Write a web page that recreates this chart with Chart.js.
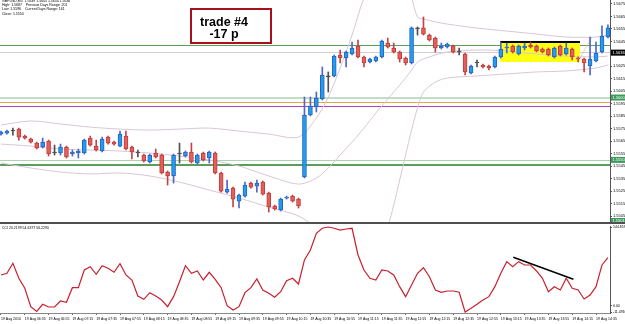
<!DOCTYPE html>
<html>
<head>
<meta charset="utf-8">
<script src="https://cdn.jsdelivr.net/npm/chart.js@4.4.1/dist/chart.umd.min.js"></script>
<style>
  html, body { margin: 0; padding: 0; background: #fff; }
  #wrap { position: relative; width: 625px; height: 324px; overflow: hidden; }
  #priceChart { position: absolute; left: 0; top: 0; }
  #sep { position: absolute; left: 0; top: 222px; width: 625px; height: 2px; background: #505050; }
  #cciChart { position: absolute; left: 0; top: 224px; }
</style>
</head>
<body>
<div id="wrap">
  <canvas id="priceChart" width="625" height="222"></canvas>
  <div id="sep"></div>
  <canvas id="cciChart" width="625" height="100"></canvas>
</div>
<script>
// GBPUSD M5, 19 Aug 2010, 06:15 .. 14:45 (one entry per bar)
var opens = [1.55707,1.55715,1.55732,1.55748,1.55691,1.55667,1.55635,1.55603,1.55651,1.55555,
  1.55555,1.55603,1.55547,1.55555,1.55555,1.55675,1.55611,1.55571,1.55683,1.55643,
  1.55611,1.55691,1.55603,1.55555,1.55539,1.55483,1.55555,1.55539,1.55403,1.55371,
  1.55547,1.55531,1.55563,1.55475,1.55555,1.55515,1.55555,1.55395,1.55242,1.55274,
  1.55170,1.55210,1.55314,1.55290,1.55322,1.55234,1.55130,1.55098,1.55194,1.55210,
  1.55186,1.55363,1.55860,1.55924,1.55988,1.56165,1.56173,1.56341,1.56317,1.56349,
  1.56413,1.56325,1.56285,1.56293,1.56325,1.56437,1.56397,1.56365,1.56317,1.56277,
  1.56550,1.56558,1.56501,1.56477,1.56397,1.56405,1.56413,1.56365,1.56349,1.56197,
  1.56277,1.56261,1.56253,1.56245,1.56325,1.56397,1.56413,1.56349,1.56397,1.56421,
  1.56413,1.56389,1.56389,1.56325,1.56413,1.56349,1.56389,1.56317,1.56309,1.56253,
  1.56293,1.56365,1.56485];
var highs = [1.55732,1.55740,1.55756,1.55756,1.55699,1.55675,1.55643,1.55675,1.55659,1.55619,
  1.55627,1.55611,1.55579,1.55587,1.55667,1.55691,1.55659,1.55683,1.55691,1.55651,
  1.55732,1.55732,1.55611,1.55579,1.55547,1.55547,1.55587,1.55547,1.55411,1.55547,
  1.55635,1.55571,1.55635,1.55547,1.55563,1.55571,1.55563,1.55403,1.55339,1.55282,
  1.55226,1.55322,1.55322,1.55339,1.55331,1.55242,1.55138,1.55194,1.55210,1.55218,
  1.55194,1.56004,1.56004,1.56044,1.56245,1.56205,1.56341,1.56381,1.56373,1.56445,
  1.56461,1.56333,1.56317,1.56333,1.56461,1.56477,1.56437,1.56373,1.56325,1.56566,
  1.56566,1.56646,1.56509,1.56485,1.56437,1.56437,1.56421,1.56397,1.56357,1.56261,
  1.56301,1.56269,1.56261,1.56333,1.56445,1.56437,1.56421,1.56421,1.56437,1.56445,
  1.56421,1.56397,1.56397,1.56405,1.56421,1.56437,1.56397,1.56325,1.56317,1.56485,
  1.56445,1.56574,1.56582];
var lows = [1.55699,1.55707,1.55699,1.55659,1.55667,1.55635,1.55587,1.55595,1.55531,1.55539,
  1.55539,1.55515,1.55531,1.55515,1.55547,1.55611,1.55571,1.55563,1.55627,1.55619,
  1.55603,1.55579,1.55507,1.55523,1.55483,1.55475,1.55515,1.55387,1.55298,1.55314,
  1.55475,1.55523,1.55475,1.55467,1.55491,1.55475,1.55387,1.55242,1.55234,1.55122,
  1.55114,1.55202,1.55274,1.55242,1.55218,1.55082,1.55098,1.55090,1.55186,1.55162,
  1.55114,1.55355,1.55852,1.55884,1.55980,1.56044,1.56165,1.56277,1.56245,1.56341,
  1.56317,1.56245,1.56277,1.56285,1.56317,1.56397,1.56357,1.56285,1.56261,1.56269,
  1.56501,1.56501,1.56453,1.56365,1.56389,1.56397,1.56357,1.56341,1.56181,1.56189,
  1.56245,1.56237,1.56221,1.56237,1.56317,1.56357,1.56357,1.56341,1.56381,1.56397,
  1.56365,1.56357,1.56333,1.56317,1.56333,1.56341,1.56301,1.56285,1.56205,1.56181,
  1.56285,1.56357,1.56477];
var closes = [1.55723,1.55732,1.55732,1.55683,1.55675,1.55643,1.55595,1.55643,1.55547,1.55555,
  1.55603,1.55523,1.55563,1.55571,1.55659,1.55619,1.55579,1.55667,1.55635,1.55627,
  1.55707,1.55587,1.55563,1.55555,1.55491,1.55539,1.55523,1.55395,1.55371,1.55539,
  1.55547,1.55563,1.55483,1.55539,1.55499,1.55563,1.55395,1.55250,1.55266,1.55186,
  1.55218,1.55298,1.55282,1.55314,1.55226,1.55122,1.55106,1.55186,1.55202,1.55170,
  1.55130,1.55860,1.55932,1.55996,1.56181,1.56165,1.56333,1.56317,1.56365,1.56397,
  1.56325,1.56277,1.56309,1.56325,1.56453,1.56405,1.56365,1.56309,1.56277,1.56558,
  1.56550,1.56509,1.56461,1.56397,1.56413,1.56429,1.56365,1.56365,1.56205,1.56253,
  1.56277,1.56245,1.56237,1.56325,1.56389,1.56405,1.56365,1.56413,1.56413,1.56405,
  1.56373,1.56365,1.56341,1.56397,1.56341,1.56397,1.56325,1.56309,1.56277,1.56309,
  1.56357,1.56493,1.56558];

// Bollinger bands, read at these bars
var bandIdx = [0,5,10,15,20,25,30,35,40,45,50,53,55,57,59,61,63,65,66,67,68,69,70,71,73,75,80,85,90,95,100,102];
var upperBand = [1.55780,1.55812,1.55788,1.55763,1.55747,1.55739,1.55747,1.55755,1.55731,1.55707,1.55683,
  1.55836,1.56004,1.56237,1.56501,1.56798,1.56983,1.57103,1.57119,1.57087,1.56983,1.56806,1.56646,1.56630,
  1.56606,1.56589,1.56557,1.56533,1.56509,1.56485,1.56485,1.56501];
var midBand = [1.55627,1.55611,1.55587,1.55579,1.55571,1.55555,1.55531,1.55499,1.55451,1.55371,1.55306,
  1.55354,1.55435,1.55539,1.55643,1.55755,1.55876,1.55988,1.56044,1.56100,1.56157,1.56221,1.56285,1.56309,
  1.56341,1.56365,1.56381,1.56373,1.56349,1.56333,1.56325,1.56333];
var lowerBand = [1.55475,1.55435,1.55403,1.55387,1.55395,1.55371,1.55322,1.55258,1.55194,1.55122,1.55050,
  1.54953,1.54857,1.54793,1.54761,1.54761,1.54817,1.54970,1.55138,1.55338,1.55539,1.55740,1.55916,1.56044,
  1.56124,1.56156,1.56173,1.56189,1.56205,1.56213,1.56237,1.56261];

// CCI per bar
var cciValues = [56.6,59.7,78.1,50.5,32.1,-1.7,-10.5,2.7,-2.3,-2.3,
  8.8,6.4,33.3,33.3,65.8,71.9,57.9,73.7,68.9,61.6,
  77.4,56.6,47.4,18.0,11.9,24.1,18.0,10.6,-1.7,16.7,
  44.3,73.7,59.7,64.0,47.4,61.6,48.7,33.3,0.1,-7.8,
  -1.7,24.1,33.3,49.2,29.0,22.9,15.6,25.9,46.1,50.5,
  40.0,84.2,102.6,133.3,142.5,144.86,142.5,139.3,141.2,142.5,
  93.4,65.8,50.5,47.4,65.8,64.0,56.6,35.1,16.7,38.2,
  59.7,70.0,53.5,29.0,24.8,27.1,27.1,24.8,-11.49,-4.7,
  2.7,10.6,16.7,35.1,59.7,81.1,71.9,81.1,75.0,75.0,
  64.0,50.5,25.9,35.1,29.0,50.5,32.1,29.0,12.5,19.8,
  35.1,75.0,88.4];
var cciTrendX = [86.1, 96.2];
var cciTrendY = [89.1, 48.7];

// horizontal price levels and boxes on the price axis
var levelPrices = [1.56421, 1.56365, 1.56000, 1.55964, 1.55932, 1.55500, 1.55463];
var boxPrices = [1.5636, 1.5600, 1.5550, 1.5501];
// consolidation zone (bars, prices) and its top line
var zoneBars = [83.9, 97.3];
var zonePrices = [1.56453, 1.56285];
var zoneTopPrice = 1.56445;
var markX = [97.3, 99.3];
var markY = [1.56317, 1.56485];

var priceTicks = [1.5675,1.5665,1.5655,1.5645,1.5625,1.5615,1.5605,1.5595,1.5585,1.5575,1.5565,
  1.5555,1.5545,1.5535,1.5525,1.5515,1.5505];
var cciTicks = [144.8593, 0, -11.4916];
var tickLabels = ['19 Aug 2010','19 Aug 06:35','19 Aug 06:55','19 Aug 07:15','19 Aug 07:35','19 Aug 07:55',
  '19 Aug 08:15','19 Aug 08:35','19 Aug 08:55','19 Aug 09:15','19 Aug 09:35','19 Aug 09:55','19 Aug 10:15',
  '19 Aug 10:35','19 Aug 10:55','19 Aug 11:15','19 Aug 11:35','19 Aug 11:55','19 Aug 12:15','19 Aug 12:35',
  '19 Aug 12:55','19 Aug 13:15','19 Aug 13:35','19 Aug 13:55','19 Aug 14:15','19 Aug 14:35'];
var infoLines = ['GBPUSD,M5  1.5639 1.5645 1.5634 1.5636',
  'High: 1.5687    Previous Days Range: 201',
  'Low: 1.5596    Current Days Range: 161',
  'Close: 1.5550'];

var X_MIN = -0.168, X_MAX = 102.35;
var FONT = 'Arial';

var levelStyle = [
  {color: '#5d9e5d', width: 1},
  {color: '#cfcfcf', width: 1},
  {color: '#c2dcc9', width: 2},
  {color: '#e0a840', width: 1},
  {color: '#b43cc8', width: 1},
  {color: '#a8d4b4', width: 1},
  {color: '#5c9c5c', width: 2}
];
var boxColor = ['#000000', '#3f9a5e', '#3f9a5e', '#3f9a5e'];

function kind(i) {
  if (closes[i] > opens[i]) return 'up';
  if (closes[i] < opens[i]) return 'down';
  return 'flat';
}
var bodyFill = {up: '#1f9df0', down: '#e2605c', flat: '#505050'};
var bodyEdge = {up: '#2a62b8', down: '#c23c3c', flat: '#505050'};
var wickCol = {up: '#4f66cc', down: '#c04545', flat: '#505050'};

var bodyData = opens.map(function (o, i) { return {x: i, y: [o, closes[i]]}; });
var wickData = highs.map(function (h, i) { return {x: i, y: [lows[i], h]}; });
function band(vals) { return vals.map(function (v, k) { return {x: bandIdx[k], y: v}; }); }

var priceDecor = {
  id: 'priceDecor',
  beforeDatasetsDraw: function (chart) {
    var ctx = chart.ctx, a = chart.chartArea, xs = chart.scales.x, ys = chart.scales.y;
    ctx.save();
    ctx.beginPath(); ctx.rect(a.left, a.top, a.right - a.left, a.bottom - a.top); ctx.clip();
    levelPrices.forEach(function (p, k) {
      var y = Math.round(ys.getPixelForValue(p)) + (levelStyle[k].width === 1 ? 0.5 : 0);
      ctx.strokeStyle = levelStyle[k].color; ctx.lineWidth = levelStyle[k].width;
      ctx.beginPath(); ctx.moveTo(a.left, y); ctx.lineTo(a.right, y); ctx.stroke();
    });
    var x0 = xs.getPixelForValue(zoneBars[0]), x1 = xs.getPixelForValue(zoneBars[1]);
    var y0 = ys.getPixelForValue(zonePrices[0]), y1 = ys.getPixelForValue(zonePrices[1]);
    ctx.fillStyle = '#ffff14';
    ctx.fillRect(x0, y0, x1 - x0, y1 - y0);
    var yt = ys.getPixelForValue(zoneTopPrice);
    ctx.strokeStyle = '#000'; ctx.lineWidth = 2;
    ctx.beginPath(); ctx.moveTo(x0, yt); ctx.lineTo(x1, yt); ctx.stroke();
    ctx.restore();
  },
  afterDraw: function (chart) {
    var ctx = chart.ctx, a = chart.chartArea, ys = chart.scales.y;
    ctx.save();
    // boxes on the price axis
    boxPrices.forEach(function (p, k) {
      var y = ys.getPixelForValue(p);
      ctx.fillStyle = boxColor[k];
      ctx.fillRect(a.right + 1, y - 3, 14, 6);
      ctx.fillStyle = '#fff';
      ctx.font = '4px ' + FONT;
      ctx.textBaseline = 'middle'; ctx.textAlign = 'left';
      ctx.fillText(p.toFixed(4), a.right + 2.5, y);
    });
    // info text
    ctx.fillStyle = '#000';
    ctx.font = '3.5px ' + FONT;
    ctx.textBaseline = 'middle'; ctx.textAlign = 'left';
    var ly = [1.5, 5.5, 9.5, 13.8];
    infoLines.forEach(function (t, k) { ctx.fillText(t, 2, ly[k]); });
    // trade note
    ctx.fillStyle = '#fff';
    ctx.fillRect(191, 9, 80, 34);
    ctx.strokeStyle = '#a8101e'; ctx.lineWidth = 2;
    ctx.strokeRect(191, 9, 80, 34);
    ctx.fillStyle = '#000';
    ctx.font = 'bold 12.5px ' + FONT;
    ctx.textAlign = 'center'; ctx.textBaseline = 'alphabetic';
    ctx.fillText('trade #4', 224, 25.7);
    ctx.fillText('-17 p', 224, 37.7);
    ctx.restore();
  }
};

new Chart(document.getElementById('priceChart'), {
  type: 'bar',
  data: {
    datasets: [
      {
        label: 'body', data: bodyData, barThickness: 4, grouped: false, minBarLength: 1,
        backgroundColor: opens.map(function (o, i) { return bodyFill[kind(i)]; }),
        borderColor: opens.map(function (o, i) { return bodyEdge[kind(i)]; }),
        borderWidth: 1, borderSkipped: false
      },
      {
        label: 'wick', data: wickData, barThickness: 1, grouped: false,
        backgroundColor: opens.map(function (o, i) { return wickCol[kind(i)]; }),
        borderWidth: 0
      },
      {type: 'line', label: 'mark', data: markX.map(function (x, k) { return {x: x, y: markY[k]}; }),
        borderColor: '#d8a860', borderWidth: 1, borderDash: [1, 1], pointRadius: 0},
      {type: 'line', label: 'upper', data: band(upperBand), borderColor: '#d9c6d6', borderWidth: 1, pointRadius: 0, tension: 0.3},
      {type: 'line', label: 'middle', data: band(midBand), borderColor: '#d9c6d6', borderWidth: 1, pointRadius: 0, tension: 0.3},
      {type: 'line', label: 'lower', data: band(lowerBand), borderColor: '#d9c6d6', borderWidth: 1, pointRadius: 0, tension: 0.3}
    ]
  },
  options: {
    responsive: false,
    animation: false,
    layout: {padding: 0},
    plugins: {legend: {display: false}, tooltip: {enabled: false}},
    scales: {
      x: {type: 'linear', min: X_MIN, max: X_MAX, display: false, offset: false},
      y: {
        position: 'right', min: 1.55002, max: 1.56782,
        afterFit: function (s) { s.width = 15; s.paddingTop = 0; s.paddingBottom = 0; },
        afterBuildTicks: function (s) { s.ticks = priceTicks.map(function (v) { return {value: v}; }); },
        ticks: {font: {size: 4, family: FONT}, color: '#000', padding: 1, autoSkip: false,
          callback: function (v) { return Number(v).toFixed(4); }},
        grid: {drawOnChartArea: false, drawTicks: true, tickLength: 2, color: '#555'},
        border: {display: true, color: '#555', width: 1}
      }
    }
  },
  plugins: [priceDecor]
});

var cciDecor = {
  id: 'cciDecor',
  afterDraw: function (chart) {
    var ctx = chart.ctx;
    ctx.save();
    ctx.fillStyle = '#000';
    ctx.font = '3.5px ' + FONT;
    ctx.textBaseline = 'middle'; ctx.textAlign = 'left';
    ctx.fillText('CCI 20.2199 54.6377 56.2290', 2, 4.5);
    ctx.restore();
  }
};

new Chart(document.getElementById('cciChart'), {
  type: 'line',
  data: {
    datasets: [
      {label: 'trend', data: cciTrendX.map(function (x, k) { return {x: x, y: cciTrendY[k]}; }),
        borderColor: '#000', borderWidth: 1.5, pointRadius: 0},
      {label: 'CCI', data: cciValues.map(function (v, i) { return {x: i, y: v}; }),
        borderColor: '#c8202e', borderWidth: 1.2, pointRadius: 0, tension: 0}
    ]
  },
  options: {
    responsive: false,
    animation: false,
    layout: {padding: {top: 2, left: 0, right: 0, bottom: 0}},
    plugins: {legend: {display: false}, tooltip: {enabled: false}},
    scales: {
      x: {
        type: 'linear', min: X_MIN, max: X_MAX, offset: false,
        afterFit: function (s) { s.height = 11; s.paddingLeft = 0; s.paddingRight = 0; },
        afterBuildTicks: function (s) { s.ticks = tickLabels.map(function (t, k) { return {value: k * 4}; }); },
        ticks: {font: {size: 3.5, family: FONT}, color: '#000', align: 'start', maxRotation: 0, autoSkip: false, padding: 2,
          callback: function (v, k) { return tickLabels[k]; }},
        grid: {drawOnChartArea: false, drawTicks: true, tickLength: 2, color: '#666'},
        border: {display: true, color: '#888', width: 1}
      },
      y: {
        position: 'right', min: -13.33, max: 146.7,
        afterFit: function (s) { s.width = 15; s.paddingTop = 0; s.paddingBottom = 0; },
        afterBuildTicks: function (s) { s.ticks = cciTicks.map(function (v) { return {value: v}; }); },
        ticks: {font: {size: 3.5, family: FONT}, color: '#000', padding: 1, autoSkip: false,
          callback: function (v) { return v === 0 ? '0.00' : Number(v).toFixed(4); }},
        grid: {drawOnChartArea: false, drawTicks: true, tickLength: 2, color: '#555'},
        border: {display: true, color: '#555', width: 1}
      }
    }
  },
  plugins: [cciDecor]
});
</script>
</body>
</html>
